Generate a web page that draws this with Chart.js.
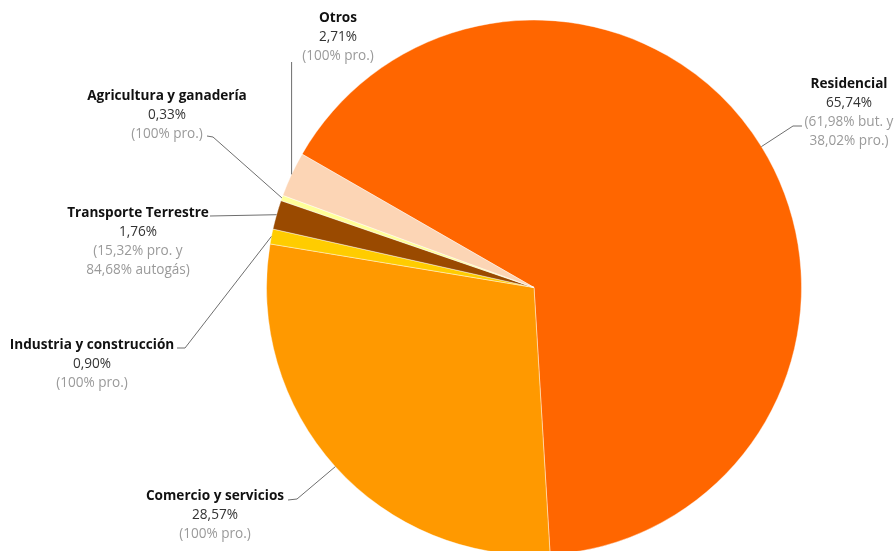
<!DOCTYPE html>
<html lang="es">
<head>
<meta charset="utf-8">
<title>Consumo de GLP por sectores</title>
<script src="https://cdn.jsdelivr.net/npm/chart.js@4.4.1/dist/chart.umd.min.js"></script>
<style>
  html, body { margin: 0; padding: 0; background: #fff; overflow: hidden; }
  #wrap { width: 894px; height: 551px; }
</style>
</head>
<body>
<div id="wrap"><canvas id="pie" width="894" height="551"></canvas></div>
<script>
// Sectores y cuota de consumo (%)
const sectores = ['Residencial', 'Comercio y servicios', 'Industria y construcción',
                  'Transporte Terrestre', 'Agricultura y ganadería', 'Otros'];
const cuotas = [65.74, 28.57, 0.90, 1.76, 0.33, 2.71];
// Desglose por producto que acompaña a cada sector
const desglose = [
  ['(61,98% but. y', '38,02% pro.)'],
  ['(100% pro.)'],
  ['(100% pro.)'],
  ['(15,32% pro. y', '84,68% autogás)'],
  ['(100% pro.)'],
  ['(100% pro.)']
];
const colores = ['#FF6600', '#FF9900', '#FFCC00', '#9A4A00', '#FFFF99', '#FCD5B5'];

// Posición de cada etiqueta (centro del primer renglón) y recorrido de su línea guía
const etiquetas = [
  { x: 849, y: 84,  guia: [[793, 126], [802, 126]] },
  { x: 215, y: 496, guia: [[297, 499], [288, 500]] },
  { x: 92,  y: 345, guia: [[185, 348], [177, 348]] },
  { x: 138, y: 213, guia: [[210, 216]] },
  { x: 167, y: 96,  guia: [[213, 137], [207, 136]] },
  { x: 338, y: 18,  guia: [[null, 62]] }
];

const fmt = v => v.toFixed(2).replace('.', ',') + '%';
const FUENTE = '"Open Sans", "Noto Sans", sans-serif';

const etiquetasPlugin = {
  id: 'etiquetasSector',
  afterDatasetsDraw(chart) {
    const ctx = chart.ctx;
    const arcs = chart.getDatasetMeta(0).data;
    ctx.save();
    arcs.forEach((arc, i) => {
      const { x, y, startAngle, endAngle, outerRadius } = arc.getProps(['x', 'y', 'startAngle', 'endAngle', 'outerRadius'], true);
      const mid = (startAngle + endAngle) / 2;
      const px = x + Math.cos(mid) * outerRadius;
      const py = y + Math.sin(mid) * outerRadius;
      const e = etiquetas[i];

      // línea guía desde el borde del sector
      ctx.beginPath();
      ctx.strokeStyle = '#6e6e6e';
      ctx.lineWidth = 1;
      ctx.moveTo(px, py);
      e.guia.forEach(([gx, gy]) => ctx.lineTo(gx === null ? px : gx, gy));
      ctx.stroke();

      // texto
      ctx.textAlign = 'center';
      ctx.textBaseline = 'middle';
      const salto = 19;
      ctx.font = 'bold 13.6px ' + FUENTE;
      ctx.fillStyle = '#111111';
      ctx.fillText(sectores[i], e.x, e.y);
      ctx.font = '13.6px ' + FUENTE;
      ctx.fillStyle = '#333333';
      ctx.fillText(fmt(cuotas[i]), e.x, e.y + salto);
      ctx.fillStyle = '#9a9a9a';
      desglose[i].forEach((t, k) => ctx.fillText(t, e.x, e.y + salto * (2 + k)));
    });
    ctx.restore();
  }
};

new Chart(document.getElementById('pie'), {
  type: 'pie',
  data: {
    labels: sectores,
    datasets: [{
      data: cuotas,
      backgroundColor: colores,
      borderColor: 'rgba(255,255,255,0.7)',
      borderWidth: 0.6,
      clip: false
    }]
  },
  options: {
    responsive: false,
    animation: false,
    devicePixelRatio: 1,
    rotation: -60.1,
    radius: 267.5,
    layout: { padding: { left: 174, right: 0, top: 24, bottom: 0 } },
    plugins: {
      legend: { display: false },
      tooltip: { enabled: false }
    },
    events: []
  },
  plugins: [etiquetasPlugin]
});
</script>
</body>
</html>
